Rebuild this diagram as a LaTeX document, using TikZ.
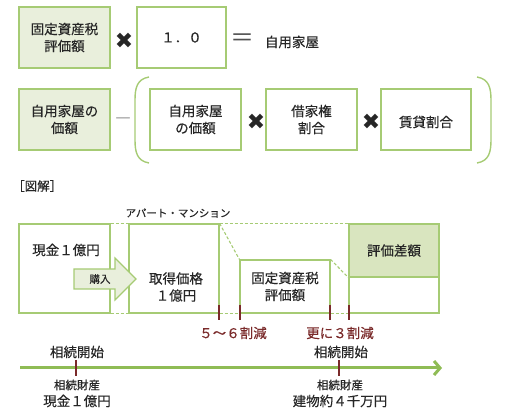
\documentclass[tikz,border=0pt]{standalone}
\usepackage{fontspec}
\setmainfont{Noto Sans CJK JP}[FakeBold=0.35]
\newfontfamily\thinfont{Noto Sans CJK JP}
\newfontfamily\symfont{DejaVu Sans}
\usetikzlibrary{arrows.meta}
\definecolor{gborder}{HTML}{A6CB74}
\definecolor{gfill}{HTML}{E9EFDC}
\definecolor{gdark}{HTML}{D9E5BF}
\definecolor{garrow}{HTML}{8FBC55}
\definecolor{dred}{HTML}{7A2A2A}
\definecolor{txt}{HTML}{262626}
\begin{document}
\begin{tikzpicture}[x=1pt,y=-1pt,
  every node/.style={text=txt},
  box/.style={draw=gborder,line width=1.2pt,minimum height=61pt,inner sep=0pt,align=center,font=\fontsize{13.5}{17}\selectfont},
  gbox/.style={box,fill=gfill},
  lbl/.style={inner sep=0pt,font=\fontsize{13.5}{17}\selectfont,align=center},
  small/.style={inner sep=0pt,font=\fontsize{11.5}{13}\selectfont},
  red/.style={inner sep=0pt,font=\fontsize{13.5}{15}\selectfont,text=dred},
  times/.style={inner sep=0pt,font=\symfont\fontsize{22}{22}\selectfont},
  dsh/.style={draw=gborder,line width=1.1pt,dash pattern=on 3pt off 2pt},
  tick/.style={draw=dred,line width=1.4pt},
  bracket/.style={draw=gborder,line width=1.4pt}]
\useasboundingbox (0,0) rectangle (507,417);

% ---- row 1
\node[gbox,minimum width=91pt] (a1) at (64.5,37.5) {固定資産税\\評価額};
\node[times] (x1) at (124,41) {✖};
\node[box,minimum width=89pt] (a2) at (181.5,37.5) {１．０};
\node[inner sep=0pt,font=\thinfont\fontsize{24}{24}\selectfont,text=txt!80] (eq) at (242,40) {＝};
\node[lbl] (t1) at (292,42) {自用家屋};

% ---- row 2
\node[gbox,minimum width=91pt] (b1) at (64.5,119.5) {自用家屋の\\価額};
\node[inner sep=0pt,font=\thinfont\fontsize{16}{16}\selectfont,text=txt!80] (mn) at (123,121) {―};
\coordinate (lp1) at (149,77);
\coordinate (lp2) at (149,163);
\draw[bracket] (lp1) .. controls (137,79) and (135,88) .. (135,100) -- (135,140) .. controls (135,152) and (137,161) .. (lp2);
\node[box,minimum width=91pt] (b2) at (195.5,119.5) {自用家屋\\の価額};
\node[times] (x2) at (256,122) {✖};
\node[box,minimum width=91pt] (b3) at (311.5,119.5) {借家権\\割合};
\node[times] (x3) at (371,122) {✖};
\node[box,minimum width=90pt] (b4) at (426,119.5) {};
\node[lbl] (b4t) at (426,122) {賃貸割合};
\coordinate (rp1) at (477,77);
\coordinate (rp2) at (477,163);
\draw[bracket] (rp1) .. controls (489,79) and (491,88) .. (491,100) -- (491,140) .. controls (491,152) and (489,161) .. (rp2);

% ---- diagram
\node[lbl,anchor=west,font=\fontsize{12.5}{14}\selectfont] (zk) at (12,186) {［図解］};
\node[inner sep=0pt,font=\fontsize{10.5}{12}\selectfont] (apt) at (178,213) {アパート・マンション};

\node[box,minimum width=91pt,minimum height=89pt] (c1) at (64.5,268.5) {};
\node[lbl] (c1t) at (66,250) {現金１億円};
\node[box,minimum width=90pt,minimum height=89pt] (c2) at (174,268.5) {};
\node[lbl] (c2t) at (176,287) {取得価格\\１億円};
\node[box,minimum width=90pt,minimum height=53pt] (c3) at (285,286.5) {固定資産税\\評価額};
\node[box,minimum width=90pt,minimum height=53pt,fill=gdark] (c4) at (394,250.5) {評価差額};
\node[box,minimum width=90pt,minimum height=36pt] (c5) at (394,295) {};

% dashed links
\draw[dsh] (c1.north east) -- (c2.north west);
\draw[dsh] (c1.south east) -- (c2.south west);
\draw[dsh] (c2.north east) -- (c4.north west);
\draw[dsh] (c2.north east) -- (c3.north west);
\draw[dsh] (c2.south east) -- (c3.south west);
\draw[dsh] (c3.north east) -- (c4.south west);
\draw[dsh] (c3.south east) -- (c5.south west);

% purchase arrow
\draw[draw=gborder,fill=gfill,line width=1.1pt] (74,269) -- (115,269) -- (115,258) -- (136,279) -- (115,300) -- (115,289) -- (74,289) -- cycle;
\node[inner sep=0pt,font=\fontsize{10.5}{12}\selectfont] (buy) at (100,279) {購入};

% reduction ticks
\coordinate (k1a) at (219,305); \coordinate (k1b) at (219,320);
\coordinate (k2a) at (240,305); \coordinate (k2b) at (240,320);
\coordinate (k3a) at (330,305); \coordinate (k3b) at (330,320);
\coordinate (k4a) at (349,305); \coordinate (k4b) at (349,320);
\draw[tick] (k1a) -- (k1b);
\draw[tick] (k2a) -- (k2b);
\draw[tick] (k3a) -- (k3b);
\draw[tick] (k4a) -- (k4b);
\node[red] (r1) at (233,333) {５～６割減};
\node[red] (r2) at (340,333) {更に３割減};

% timeline
\coordinate (ts) at (20,368);
\coordinate (te) at (442,368);
\draw[draw=garrow,line width=3pt,-{Straight Barb[length=6pt,width=14pt]}] (ts) -- (te);
\coordinate (m1a) at (76,360); \coordinate (m1b) at (76,376);
\coordinate (m2a) at (339,360); \coordinate (m2b) at (339,376);
\draw[tick] (m1a) -- (m1b);
\draw[tick] (m2a) -- (m2b);
\node[lbl] (s1) at (77,352) {相続開始};
\node[lbl] (s2) at (341,352) {相続開始};
\node[small] (p1) at (77,385) {相続財産};
\node[lbl] (q1) at (77,401) {現金１億円};
\node[small] (p2) at (340,385) {相続財産};
\node[lbl] (q2) at (340,401) {建物約４千万円};
\end{tikzpicture}
\end{document}
